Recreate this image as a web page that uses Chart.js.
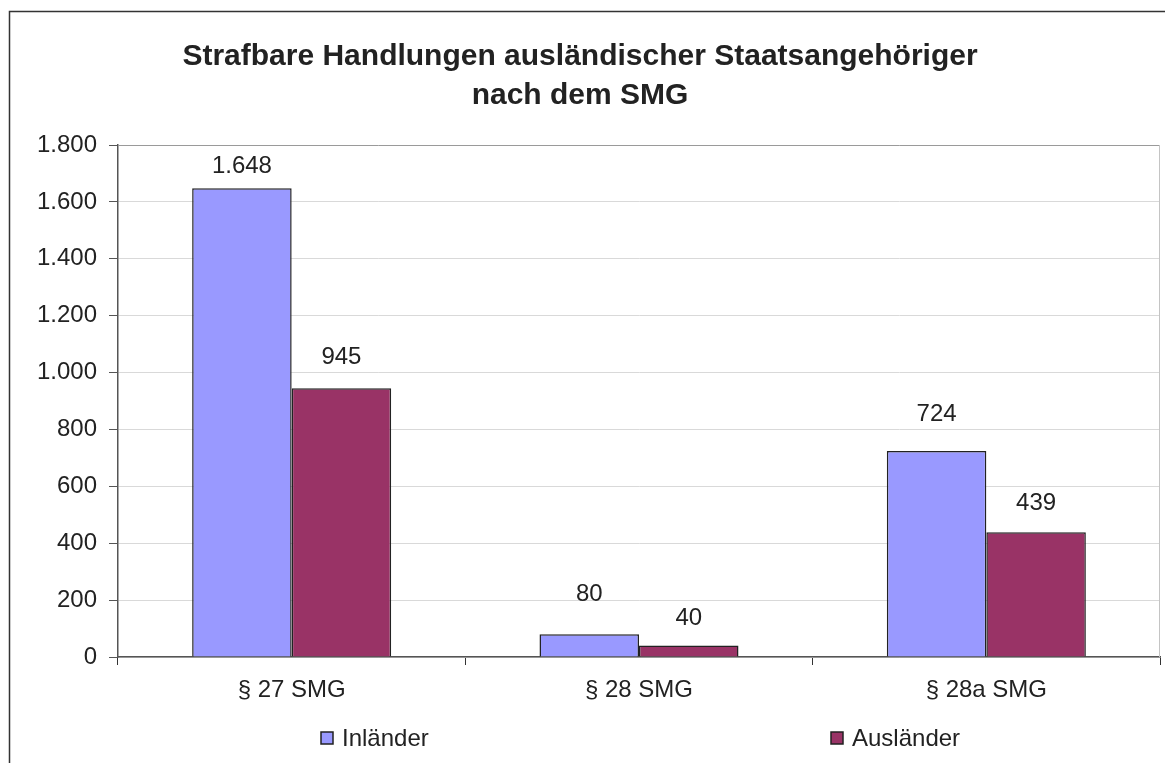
<!DOCTYPE html>
<html>
<head>
<meta charset="utf-8">
<script src="https://cdn.jsdelivr.net/npm/chart.js@4/dist/chart.umd.min.js"></script>
<style>
  html, body { margin: 0; padding: 0; background: #fff; }
  #wrap { width: 1165px; height: 763px; position: relative; }
</style>
</head>
<body>
<div id="wrap"><canvas id="smgChart"></canvas></div>
<script>
var categories = ['§ 27 SMG', '§ 28 SMG', '§ 28a SMG'];
var inlaender = [1648, 80, 724];
var auslaender = [945, 40, 439];
var yTicks = [0, 200, 400, 600, 800, 1000, 1200, 1400, 1600, 1800];

var FONT = "'Liberation Sans', Arial, sans-serif";

// 1648 -> 1.648
function fmt(v) {
    return String(v).replace(/\B(?=(\d{3})+(?!\d))/g, '.');
}

// frame round the whole picture + plot area border
var framePlugin = {
    id: 'frame',
    beforeDatasetsDraw: function (chart) {
        var c = chart.ctx, a = chart.chartArea;
        c.save();
        c.lineWidth = 1;
        c.strokeStyle = '#9a9a9a';
        c.beginPath();
        c.moveTo(a.left, a.top + 0.5);
        c.lineTo(a.right, a.top + 0.5);
        c.stroke();
        c.strokeStyle = '#c4c4c4';
        c.beginPath();
        c.moveTo(a.right - 0.5, a.top);
        c.lineTo(a.right - 0.5, a.bottom);
        c.stroke();
        c.restore();
    },
    afterDraw: function (chart) {
        var c = chart.ctx;
        c.save();
        c.lineWidth = 1.5;
        c.strokeStyle = '#333';
        c.strokeRect(9.5, 11.5, 3000, 3000);
        c.restore();
    }
};

// labels sit a bit irregularly above the bars in the original
var valueLabels = {
    id: 'valueLabels',
    afterDatasetsDraw: function (chart, args, opts) {
        var c = chart.ctx;
        c.save();
        c.font = '24px ' + FONT;
        c.fillStyle = '#222';
        c.textAlign = 'center';
        c.textBaseline = 'middle';
        chart.data.datasets.forEach(function (ds, i) {
            chart.getDatasetMeta(i).data.forEach(function (bar, j) {
                c.fillText(fmt(ds.data[j]), bar.x, bar.y - opts.lift[i][j]);
            });
        });
        c.restore();
    }
};

var bottomLegend = {
    id: 'bottomLegend',
    afterDraw: function (chart) {
        var c = chart.ctx;
        var xs = [321, 831];
        c.save();
        c.font = '24px ' + FONT;
        c.textBaseline = 'middle';
        c.textAlign = 'left';
        chart.data.datasets.forEach(function (ds, i) {
            c.fillStyle = ds.backgroundColor;
            c.fillRect(xs[i], 732, 12, 12);
            c.lineWidth = 1.5;
            c.strokeStyle = '#222';
            c.strokeRect(xs[i], 732, 12, 12);
            c.fillStyle = '#222';
            c.fillText(ds.label, xs[i] + 21, 739);
        });
        c.restore();
    }
};

new Chart(document.getElementById('smgChart'), {
    type: 'bar',
    data: {
        labels: categories,
        datasets: [{
            label: 'Inländer',
            data: inlaender,
            backgroundColor: '#9999FF',
            borderColor: '#222',
            borderWidth: 1.5,
            categoryPercentage: 0.573,
            barPercentage: 1
        }, {
            label: 'Ausländer',
            data: auslaender,
            backgroundColor: '#993366',
            borderColor: '#222',
            borderWidth: 1.5,
            categoryPercentage: 0.573,
            barPercentage: 1
        }]
    },
    options: {
        responsive: true,
        maintainAspectRatio: false,
        animation: false,
        layout: { padding: { top: 0, right: 5, bottom: 0, left: 0 } },
        plugins: {
            legend: { display: false },
            tooltip: { enabled: false },
            valueLabels: { lift: [[22, 40, 37], [31, 27, 29]] },
            title: {
                display: true,
                text: ['Strafbare Handlungen ausländischer Staatsangehöriger', 'nach dem SMG'],
                color: '#222',
                font: { family: FONT, size: 30, weight: 'bold', lineHeight: 1.3 },
                padding: { top: 37, bottom: 30 }
            }
        },
        scales: {
            x: {
                grid: {
                    offset: true,
                    drawOnChartArea: false,
                    drawTicks: true,
                    tickLength: 8,
                    color: '#333'
                },
                border: { color: '#555', width: 1.5 },
                ticks: {
                    color: '#222',
                    padding: 11,
                    font: { family: FONT, size: 24 }
                },
                afterFit: function (s) { s.height = 106; }
            },
            y: {
                min: 0,
                max: 1800,
                afterBuildTicks: function (s) {
                    s.ticks = yTicks.map(function (v) { return { value: v }; });
                },
                grid: {
                    color: '#d9d9d9',
                    tickColor: '#555',
                    tickLength: 9
                },
                border: { color: '#555', width: 1.5 },
                ticks: {
                    color: '#222',
                    padding: 12,
                    font: { family: FONT, size: 24 },
                    callback: function (v) { return fmt(v); }
                },
                afterFit: function (s) { s.width = 118; }
            }
        }
    },
    plugins: [framePlugin, valueLabels, bottomLegend]
});
</script>
</body>
</html>
